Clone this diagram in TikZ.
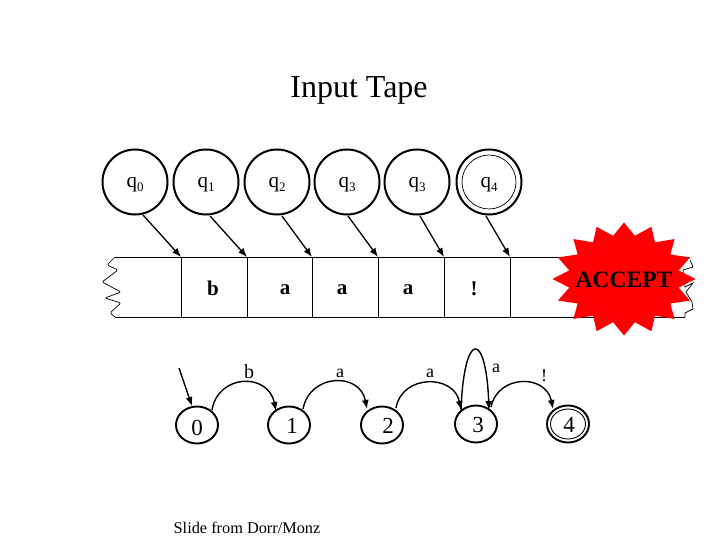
\documentclass[tikz,border=0pt]{standalone}
\usepackage{fontspec}
\setmainfont{Liberation Serif}
\usetikzlibrary{arrows.meta,shapes.geometric}
\tikzset{
  x=1pt,y=-1pt,
  state/.style={draw,circle,line width=2pt,minimum size=65pt,inner sep=0pt,font=\fontsize{21}{23}\selectfont},
  lowstate/.style={draw,ellipse,line width=1.9pt,minimum width=42pt,minimum height=37pt,inner sep=0pt,font=\fontsize{23}{25}\selectfont},
  headarrow/.style={line width=1.3pt,-{Latex[length=9pt,width=7pt]}},
  edgearc/.style={line width=1.4pt,-{Latex[length=9pt,width=7pt]}},
  tapeline/.style={line width=1pt},
  wave/.style={line width=.7pt},
  cellsym/.style={font=\fontsize{21}{23}\selectfont\bfseries},
  arclabel/.style={font=\fontsize{18}{20}\selectfont}
}
\newcommand{\qsub}[1]{\raisebox{-6pt}[5pt][5pt]{q\raisebox{-3.5pt}{\fontsize{13}{13}\selectfont #1}}}
\newcommand{\digitat}[2]{\raisebox{-#1}[5pt][5pt]{#2}}
\begin{document}
\begin{tikzpicture}
\useasboundingbox (0,0) rectangle (720,540);
\node (title) at (359,90) {\fontsize{32}{34}\selectfont Input Tape};
% heads
\node[state] (h0) at (135,182) {\qsub{0}};
\node[state] (h1) at (206,182) {\qsub{1}};
\node[state] (h2) at (277,182) {\qsub{2}};
\node[state] (h3) at (347,182) {\qsub{3}};
\node[state] (h4) at (417,182) {\qsub{3}};
\node[state] (h5) at (489,182) {\qsub{4}};
\node[draw,circle,line width=.7pt,minimum size=54pt,inner sep=0pt] (h5in) at (489,182) {};
% tape
\coordinate (tl) at (115,257);
\coordinate (tr) at (690,257);
\coordinate (bl) at (115,317);
\coordinate (br) at (685,317);
\draw[tapeline] (tl) -- (tr);
\draw[tapeline] (bl) -- (br);
\foreach \n/\x in {0/181,1/247,2/312,3/378,4/444,5/510}{
  \coordinate (c\n) at (\x,257);
  \draw[tapeline] (\x,257) -- (\x,317);
}
\draw[headarrow] (143,215) -- (c0);
\draw[headarrow] (210,216) -- (c1);
\draw[headarrow] (282,216) -- (c2);
\draw[headarrow] (348,216) -- (c3);
\draw[headarrow] (420,216) -- (c4);
\draw[headarrow] (486,216) -- (c5);
\node[cellsym] (s1) at (213,288) {b};
\node[cellsym] (s2) at (285,290) {a};
\node[cellsym] (s3) at (342,290) {a};
\node[cellsym] (s4) at (408,290) {a};
\node[cellsym] (s5) at (474,289) {!};
% torn edges
\draw[wave,rounded corners=2pt] (tl) -- (107,265) -- (118,270) -- (102,282) -- (121,292) -- (105,298) -- (121,303) -- (110,313) -- (bl);
\draw[wave] (690,260) -- (693,267) -- (683,270) -- (685,287) -- (693,283) -- (686,292) -- (692,302) -- (693,309) -- (685,313) -- (br);
% star
\fill[red] plot[samples at={0,...,31}] ({624+71.5*(1-0.22*mod(\x,2))*cos(\x*11.25)},{279+56.5*(1-0.22*mod(\x,2))*sin(\x*11.25)}) -- cycle;
\node[font=\fontsize{23.5}{25}\selectfont\bfseries] (accept) at (624,280) {ACCEPT};
% automaton
\node[lowstate] (a0) at (197,425) {\digitat{10pt}{0}};
\node[lowstate] (a1) at (289,425) {\hspace{6pt}\digitat{8pt}{1}};
\node[lowstate] (a2) at (382,425) {\hspace{12pt}\digitat{8pt}{2}};
\node[lowstate] (a3) at (476,424) {\hspace{4pt}\digitat{8pt}{3}};
\node[lowstate] (a4) at (568,424) {\hspace{2pt}\digitat{8pt}{4}};
\node[draw,ellipse,line width=.9pt,minimum width=35pt,minimum height=30pt,inner sep=0pt] (a4in) at (568,424) {};
\coordinate (start) at (179,368);
\draw[edgearc] (start) -- (192,406);
\draw[edgearc] (212,410) .. controls (218,374) and (268,372) .. (276,411);
\draw[edgearc] (303,409) .. controls (310,373) and (360,372) .. (367,409);
\draw[edgearc] (396,408) .. controls (402,374) and (454,374) .. (461,410);
\draw[edgearc] (461,410) .. controls (464,330) and (486,330) .. (489,410);
\draw[edgearc] (491,407) .. controls (498,374) and (546,374) .. (553,409);
\node[arclabel,font=\fontsize{20}{22}\selectfont] (lb) at (249,372) {b};
\node[arclabel] (la1) at (340,373) {a};
\node[arclabel] (la2) at (430,373) {a};
\node[arclabel] (la3) at (496,368) {a};
\node[arclabel] (lx) at (544,376) {!};
\node[font=\fontsize{16.3}{18}\selectfont] (credit) at (247,528) {Slide from Dorr/Monz};
\end{tikzpicture}
\end{document}
